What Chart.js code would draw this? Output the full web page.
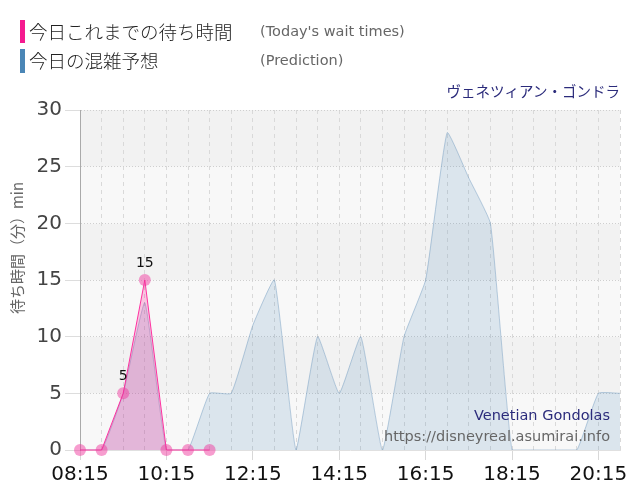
<!DOCTYPE html>
<html>
<head>
<meta charset="utf-8">
<script src="https://cdn.jsdelivr.net/npm/chart.js@4.4.0/dist/chart.umd.min.js"></script>
<style>
  html, body { margin: 0; padding: 0; background: #fff; }
  #wrap { position: relative; width: 640px; height: 500px; overflow: hidden; }
  #c { position: absolute; left: 0; top: 0; }
  .t { position: absolute; white-space: nowrap; line-height: 1; }
  .bar { position: absolute; width: 5px; }
  .jp { font-family: "Noto Sans CJK JP", sans-serif; }
  .en { font-family: "DejaVu Sans", Verdana, sans-serif; }
</style>
</head>
<body>
<div id="wrap">
  <canvas id="c" width="640" height="500"></canvas>
  <div class="bar" style="left:20px;top:20px;height:23px;background:#f51a8f;"></div>
  <div class="t jp" style="left:29px;top:22px;font-size:18.5px;color:#222;font-weight:300;">今日これまでの待ち時間</div>
  <div class="t en" style="left:260px;top:24px;font-size:14.5px;color:#666;">(Today's wait times)</div>
  <div class="bar" style="left:20px;top:49px;height:24px;background:#4a86b6;"></div>
  <div class="t jp" style="left:29px;top:51px;font-size:18.5px;color:#222;font-weight:300;">今日の混雑予想</div>
  <div class="t en" style="left:260px;top:53px;font-size:14.5px;color:#666;">(Prediction)</div>
  <div class="t jp" style="right:20px;top:84px;font-size:14.5px;color:#2b2b7b;">ヴェネツィアン・ゴンドラ</div>
</div>
<script>
const timeLabels = ['08:15','08:45','09:15','09:45','10:15','10:45','11:15','11:45','12:15','12:45',
  '13:15','13:45','14:15','14:45','15:15','15:45','16:15','16:45','17:15','17:45',
  '18:15','18:45','19:15','19:45','20:15','20:45'];
const xTickLabels = ['08:15','10:15','12:15','14:15','16:15','18:15','20:15'];
const yTicks = [0, 5, 10, 15, 20, 25, 30];
const waitTimes = [0, 0, 5, 15, 0, 0, 0, null, null, null, null, null, null, null, null, null,
  null, null, null, null, null, null, null, null, null, null];
const prediction = [0, 0, 5, 13, 0, 0, 5, 5, 11, 15, 0, 10, 5, 10, 0, 10, 15, 28, 24, 20, 0, 0, 0, 0, 5, 5];
const yTitle = '待ち時間（分）min';
const watermarkName = 'Venetian Gondolas';
const watermarkUrl = 'https://disneyreal.asumirai.info';

const bandsPlugin = {
  id: 'bands',
  beforeDraw(chart) {
    const { ctx, chartArea: a, scales: { y } } = chart;
    ctx.save();
    for (let i = 0; i < yTicks.length - 1; i++) {
      const y0 = y.getPixelForValue(yTicks[i]);
      const y1 = y.getPixelForValue(yTicks[i + 1]);
      ctx.fillStyle = (i % 2 === 0) ? '#f8f8f8' : '#f2f2f2';
      ctx.fillRect(a.left, y1, a.right - a.left, y0 - y1);
    }
    ctx.restore();
  }
};

const textPlugin = {
  id: 'texts',
  afterDraw(chart) {
    const { ctx } = chart;
    ctx.save();
    ctx.translate(17, 248);
    ctx.rotate(-Math.PI / 2);
    ctx.font = '15px "Noto Sans CJK JP", sans-serif';
    ctx.fillStyle = '#666';
    ctx.textAlign = 'center';
    ctx.textBaseline = 'middle';
    ctx.fillText(yTitle, 0, 0);
    ctx.restore();

    ctx.save();
    ctx.textAlign = 'right';
    ctx.textBaseline = 'middle';
    ctx.font = '14.5px "DejaVu Sans", Verdana, sans-serif';
    ctx.fillStyle = '#2b2b7b';
    ctx.fillText(watermarkName, 610, 416);
    ctx.fillStyle = '#666';
    ctx.fillText(watermarkUrl, 610, 437);

    const meta = chart.getDatasetMeta(0);
    ctx.fillStyle = '#111';
    ctx.textAlign = 'center';
    ctx.font = '14px "DejaVu Sans", Verdana, sans-serif';
    meta.data.forEach((pt, i) => {
      const v = waitTimes[i];
      if (v !== null && v > 0) {
        ctx.fillText(String(v), pt.x, pt.y - 17);
      }
    });
    ctx.restore();
  }
};

new Chart(document.getElementById('c'), {
  type: 'line',
  data: {
    labels: timeLabels,
    datasets: [
      {
        label: '今日これまでの待ち時間',
        data: waitTimes,
        borderColor: 'rgba(255,20,147,0.85)',
        borderWidth: 1,
        backgroundColor: 'rgba(255,20,147,0.22)',
        fill: 'origin',
        tension: 0,
        clip: 10,
        pointRadius: 6,
        pointHoverRadius: 6,
        pointBackgroundColor: 'rgba(240,60,160,0.5)',
        pointBorderColor: 'rgba(240,60,160,0.5)',
        pointBorderWidth: 0,
        spanGaps: false,
        order: 0
      },
      {
        label: '今日の混雑予想',
        data: prediction,
        borderColor: 'rgba(120,160,195,0.5)',
        borderWidth: 1,
        backgroundColor: 'rgba(70,130,180,0.16)',
        fill: 'origin',
        tension: 0.12,
        pointRadius: 0,
        order: 1
      }
    ]
  },
  options: {
    responsive: false,
    animation: false,
    events: [],
    layout: { padding: { top: 110, right: 20, left: 0, bottom: 0 } },
    plugins: {
      legend: { display: false },
      tooltip: { enabled: false },
      title: { display: false }
    },
    scales: {
      x: {
        afterFit(s) { s.height = 50; },
        grid: {
          color: '#d9d9d9',
          tickLength: 10,
          tickColor: (c) => (c.tick && xTickLabels.includes(timeLabels[c.index])) ? '#d8d8d8' : 'rgba(0,0,0,0)',
          tickBorderDash: []
        },
        border: { display: true, color: '#e0e0e0', dash: [4, 4] },
        ticks: {
          autoSkip: false,
          maxRotation: 0,
          padding: 3,
          color: '#111',
          font: { family: '"DejaVu Sans", Verdana, sans-serif', size: 20 },
          callback: function (v, i) {
            const l = timeLabels[i];
            return xTickLabels.includes(l) ? l : '';
          }
        }
      },
      y: {
        min: yTicks[0],
        max: yTicks[yTicks.length - 1],
        afterFit(s) { s.width = 80; },
        grid: {
          color: '#cfcfcf',
          tickLength: 15,
          tickColor: '#dddddd',
          tickBorderDash: []
        },
        border: { display: true, color: '#aaaaaa', dash: [1, 2] },
        ticks: {
          stepSize: 5,
          padding: 3,
          color: '#444',
          font: { family: '"DejaVu Sans", Verdana, sans-serif', size: 20 }
        }
      }
    }
  },
  plugins: [bandsPlugin, textPlugin]
});
</script>
</body>
</html>
